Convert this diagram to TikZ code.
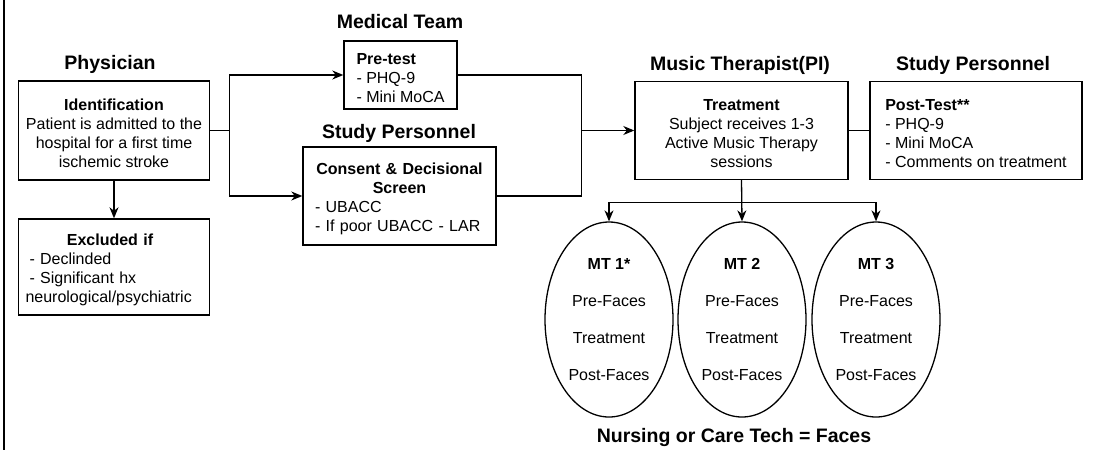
\documentclass[tikz,border=0pt]{standalone}
\usepackage{fontspec}
\setmainfont{Liberation Sans}
\usetikzlibrary{arrows.meta,shapes.geometric,positioning}
\newcommand{\tg}{\rule{0pt}{17.5pt}}
\begin{document}
\begin{tikzpicture}[x=1pt,y=-1pt,
  box/.style={draw,line width=1.4pt,inner sep=0pt,font=\fontsize{16}{19}\selectfont},
  ttl/.style={font=\bfseries\fontsize{19.5}{23}\selectfont,inner sep=0pt},
  oval/.style={draw,ellipse,line width=1.3pt,inner sep=0pt,minimum width=128pt,minimum height=195pt,align=center,font=\fontsize{16}{37}\selectfont},
  conn/.style={line width=1.3pt},
  arr/.style={conn,-{Stealth[length=11pt,width=9pt,inset=3.5pt]}}]
\useasboundingbox (0,0) rectangle (1102,450);
\draw[line width=2.5pt] (4,0) -- (4,450);

% titles
\node[ttl] (tphys) at (110,64) {Physician};
\node[ttl] (tmed) at (400,22) {Medical Team};
\node[ttl] (tsp1) at (399,133) {Study Personnel};
\node[ttl] (tmus) at (740,65) {Music Therapist(PI)};
\node[ttl] (tsp2) at (973,65) {Study Personnel};
\node[ttl] (tnurse) at (734,437) {Nursing or Care Tech = Faces};

% boxes
\node[box,minimum width=191pt,minimum height=99pt,align=center] (ident) at (114,130.5)
  {\tg\textbf{Identification}\\Patient is admitted to the\\hospital for a first time\\ischemic stroke};
\node[box,minimum width=191pt,minimum height=96pt,text width=177pt,align=left] (excl) at (114,267)
  {\tg\hfill\textbf{Excluded if}\hspace{8pt}\hfill\null\\\hspace*{4pt}- Declinded\\\hspace*{4pt}- Significant hx\\neurological/psychiatric};
\node[box,minimum width=113pt,minimum height=68pt,align=left] (pre) at (400.5,75)
  {\tg\textbf{Pre-test}\\- PHQ-9\\- Mini MoCA};
\node[box,minimum width=193pt,minimum height=98pt,text width=169pt,align=left] (cons) at (399.5,196)
  {\tg\hfill\textbf{Consent \& Decisional}\hfill\null\\\hfill\textbf{Screen}\hfill\null\\- UBACC\\- If poor UBACC - LAR};
\node[box,minimum width=213pt,minimum height=98pt,align=center] (treat) at (741.5,130.5)
  {\tg\textbf{Treatment}\\Subject receives 1-3\\Active Music Therapy\\sessions};
\node[box,minimum width=212pt,minimum height=98pt,align=left] (post) at (976,130.5)
  {\tg\textbf{Post-Test**}\\- PHQ-9\\- Mini MoCA\\- Comments on treatment};

% ellipses
\node[oval] (mt1) at (609,319.5) {\textbf{MT 1*}\\Pre-Faces\\Treatment\\Post-Faces};
\node[oval] (mt2) at (742,319.5) {\textbf{MT 2}\\Pre-Faces\\Treatment\\Post-Faces};
\node[oval] (mt3) at (876,319.5) {\textbf{MT 3}\\Pre-Faces\\Treatment\\Post-Faces};

% connectors
\coordinate (j1) at ([xshift=19pt]ident.east);
\coordinate (j2) at ([xshift=-53pt]treat.west);
\coordinate (j3) at ([yshift=-22pt]treat.south);
\draw[arr] (ident.south) -- (excl.north);
\draw[conn] (ident.east) -- (j1);
\draw[arr] (j1) |- (pre.west);
\draw[arr] (j1) |- (cons.west);
\draw[conn] (pre.east) -| (j2);
\draw[conn] (cons.east) -| (j2);
\draw[arr] (j2) -- (treat.west);
\draw[conn] (treat.east) -- (post.west);
\draw[arr] (treat.south) -- (mt2.north);
\draw[arr] (j3) -| (mt1.north);
\draw[arr] (j3) -| (mt3.north);
\end{tikzpicture}
\end{document}
